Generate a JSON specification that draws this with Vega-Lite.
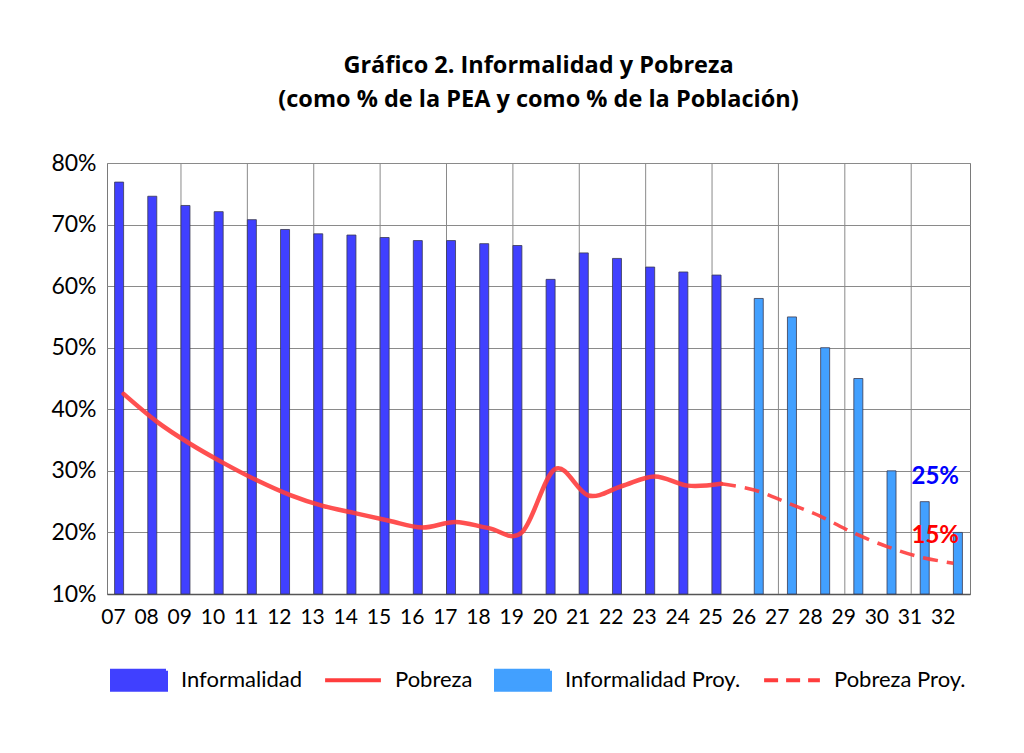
{
  "$schema": "https://vega.github.io/schema/vega-lite/v6.json",
  "width": 863,
  "height": 431,
  "autosize": {"type": "none"},
  "padding": {"left": 107, "top": 163, "right": 54, "bottom": 159},
  "background": "white",
  "title": {
    "text": ["Gráfico 2. Informalidad y Pobreza", "(como % de la PEA y como % de la Población)"],
    "font": "Open Sans",
    "fontSize": 23.5,
    "fontWeight": "bold",
    "color": "black",
    "anchor": "middle",
    "frame": "group",
    "lineHeight": 34,
    "offset": 41
  },
  "config": {
    "font": "Lato",
    "view": {"stroke": "#7a7a7a", "strokeWidth": 1},
    "axisX": {"labelPadding": 12, "labelBaseline": "top"},
    "legend": {
      "orient": "bottom",
      "direction": "horizontal",
      "offset": 21,
      "labelLimit": 400,
      "symbolSize": 3600,
      "symbolStrokeWidth": 4,
      "symbolOpacity": 1,
      "labelOffset": 10,
      "columnPadding": 15,
      "labelFont": "Lato",
      "labelFontSize": 22,
      "labelColor": "black"
    }
  },
  "datasets": {
    "serie": [
      {"year": "07", "serie": "Informalidad", "value": 76.9},
      {"year": "08", "serie": "Informalidad", "value": 74.6},
      {"year": "09", "serie": "Informalidad", "value": 73.1},
      {"year": "10", "serie": "Informalidad", "value": 72.1},
      {"year": "11", "serie": "Informalidad", "value": 70.8},
      {"year": "12", "serie": "Informalidad", "value": 69.2},
      {"year": "13", "serie": "Informalidad", "value": 68.5},
      {"year": "14", "serie": "Informalidad", "value": 68.3},
      {"year": "15", "serie": "Informalidad", "value": 67.9},
      {"year": "16", "serie": "Informalidad", "value": 67.4},
      {"year": "17", "serie": "Informalidad", "value": 67.4},
      {"year": "18", "serie": "Informalidad", "value": 66.9},
      {"year": "19", "serie": "Informalidad", "value": 66.6},
      {"year": "20", "serie": "Informalidad", "value": 61.1},
      {"year": "21", "serie": "Informalidad", "value": 65.4},
      {"year": "22", "serie": "Informalidad", "value": 64.5},
      {"year": "23", "serie": "Informalidad", "value": 63.1},
      {"year": "24", "serie": "Informalidad", "value": 62.3},
      {"year": "25", "serie": "Informalidad", "value": 61.8},
      {"year": "26", "serie": "Informalidad Proy.", "value": 58},
      {"year": "27", "serie": "Informalidad Proy.", "value": 55},
      {"year": "28", "serie": "Informalidad Proy.", "value": 50},
      {"year": "29", "serie": "Informalidad Proy.", "value": 45},
      {"year": "30", "serie": "Informalidad Proy.", "value": 30},
      {"year": "31", "serie": "Informalidad Proy.", "value": 25},
      {"year": "32", "serie": "Informalidad Proy.", "value": 20},
      {"year": "07", "serie": "Pobreza", "value": 42.5},
      {"year": "08", "serie": "Pobreza", "value": 38.0},
      {"year": "09", "serie": "Pobreza", "value": 34.4},
      {"year": "10", "serie": "Pobreza", "value": 31.3},
      {"year": "11", "serie": "Pobreza", "value": 28.5},
      {"year": "12", "serie": "Pobreza", "value": 26.1},
      {"year": "13", "serie": "Pobreza", "value": 24.3},
      {"year": "14", "serie": "Pobreza", "value": 23.1},
      {"year": "15", "serie": "Pobreza", "value": 21.9},
      {"year": "16", "serie": "Pobreza", "value": 20.8},
      {"year": "17", "serie": "Pobreza", "value": 21.7},
      {"year": "18", "serie": "Pobreza", "value": 20.7},
      {"year": "19", "serie": "Pobreza", "value": 20.0},
      {"year": "20", "serie": "Pobreza", "value": 30.3},
      {"year": "21", "serie": "Pobreza", "value": 26.0},
      {"year": "22", "serie": "Pobreza", "value": 27.5},
      {"year": "23", "serie": "Pobreza", "value": 29.1},
      {"year": "24", "serie": "Pobreza", "value": 27.6},
      {"year": "25", "serie": "Pobreza", "value": 27.9},
      {"year": "25", "serie": "Pobreza Proy.", "value": 27.9},
      {"year": "26", "serie": "Pobreza Proy.", "value": 26.9},
      {"year": "27", "serie": "Pobreza Proy.", "value": 24.8},
      {"year": "28", "serie": "Pobreza Proy.", "value": 22.6},
      {"year": "29", "serie": "Pobreza Proy.", "value": 19.9},
      {"year": "30", "serie": "Pobreza Proy.", "value": 17.7},
      {"year": "31", "serie": "Pobreza Proy.", "value": 16.0},
      {"year": "32", "serie": "Pobreza Proy.", "value": 15.0}
    ],
    "notas": [
      {"year": "31", "value": 29.0, "label": "25%"},
      {"year": "31", "value": 19.4, "label": "15%"}
    ]
  },
  "layer": [
    {
      "data": {"name": "serie"},
      "transform": [{"filter": {"field": "serie", "equal": "Informalidad"}}, {"filter": {"field": "year", "oneOf": ["09", "11", "13", "15", "17", "19", "21", "23", "25"]}}],
      "mark": {"type": "rule", "color": "#8a8a8a", "strokeWidth": 1},
      "encoding": {
        "x": {"field": "year", "type": "nominal", "bandPosition": 0}
      }
    },
    {
      "data": {"name": "serie"},
      "transform": [{"filter": {"field": "serie", "equal": "Informalidad Proy."}}, {"filter": {"field": "year", "oneOf": ["27", "29", "31"]}}],
      "mark": {"type": "rule", "color": "#8a8a8a", "strokeWidth": 1},
      "encoding": {
        "x": {"field": "year", "type": "nominal", "bandPosition": 0}
      }
    },
    {
      "data": {"name": "serie"},
      "transform": [{"filter": {"field": "serie", "oneOf": ["Informalidad", "Informalidad Proy."]}}],
      "mark": {"type": "bar", "stroke": "#3a3a50", "strokeWidth": 0.8},
      "encoding": {
        "x": {
          "field": "year", "type": "nominal",
          "scale": {"paddingInner": 0.457, "paddingOuter": 0.2285},
          "axis": {
            "title": null, "grid": false, "ticks": false, "domain": true,
            "domainColor": "#555555", "domainWidth": 1.5,
            "labelAngle": 0, "labelFont": "Lato", "labelFontSize": 21,
            "labelColor": "black", "labelPadding": 12, "labelBaseline": "top", "labelOffset": 2
          }
        },
        "xOffset": {"field": "serie", "type": "nominal", "scale": {"domain": ["Informalidad", "Informalidad Proy."], "paddingInner": 0, "paddingOuter": 0}},
        "y": {
          "field": "value", "type": "quantitative",
          "scale": {"domain": [10, 80], "nice": false, "zero": false},
          "axis": {
            "title": null, "values": [10, 20, 30, 40, 50, 60, 70, 80],
            "labelExpr": "datum.value + '%'",
            "grid": true, "gridColor": "#8a8a8a", "gridWidth": 1,
            "ticks": false, "domain": false,
            "labelFont": "Lato", "labelFontSize": 23, "labelColor": "black", "labelPadding": 11
          }
        },
        "y2": {"datum": 10},
        "color": {
          "field": "serie", "type": "nominal",
          "scale": {
            "domain": ["Informalidad", "Pobreza", "Informalidad Proy.", "Pobreza Proy."],
            "range": ["#4040FF", "#FF3D3D", "#42A0FF", "#FF3D3D"]
          },
          "legend": {"title": null}
        }
      }
    },
    {
      "data": {"name": "serie"},
      "transform": [{"filter": {"field": "serie", "equal": "Pobreza"}}],
      "mark": {"type": "line", "interpolate": "cardinal", "strokeWidth": 4.5, "opacity": 0.9, "strokeCap": "round"},
      "encoding": {
        "x": {"field": "year", "type": "nominal"},
        "y": {"field": "value", "type": "quantitative"},
        "color": {"field": "serie", "type": "nominal", "legend": {"title": null}}
      }
    },
    {
      "data": {"name": "serie"},
      "transform": [{"filter": {"field": "serie", "equal": "Pobreza Proy."}}],
      "mark": {"type": "line", "interpolate": "cardinal", "strokeWidth": 3.5, "opacity": 0.9, "strokeDash": [15, 9]},
      "encoding": {
        "x": {"field": "year", "type": "nominal"},
        "y": {"field": "value", "type": "quantitative"},
        "color": {"field": "serie", "type": "nominal", "legend": {"title": null}}
      }
    },
    {
      "data": {"name": "serie"},
      "transform": [{"filter": "datum.value < 0"}],
      "mark": {"type": "point", "filled": false},
      "encoding": {
        "x": {"field": "year", "type": "nominal"},
        "y": {"field": "value", "type": "quantitative"},
        "color": {"field": "serie", "type": "nominal", "legend": {"title": null}},
        "shape": {
          "field": "serie", "type": "nominal",
          "scale": {
            "domain": ["Informalidad", "Pobreza", "Informalidad Proy.", "Pobreza Proy."],
            "range": ["M-0.9,-0.317H0.9V0.317H-0.9Z", "M-0.9,-0.317M-0.9,0.317M-0.93,0H0.93", "M-0.9,-0.317H0.9V0.317H-0.9Z", "M-0.9,-0.317M-0.9,0.317M-0.93,0H0.93"]
          },
          "legend": {"title": null}
        },
        "strokeDash": {
          "field": "serie", "type": "nominal",
          "scale": {
            "domain": ["Informalidad", "Pobreza", "Informalidad Proy.", "Pobreza Proy."],
            "range": [[1, 0], [1, 0], [1, 0], [14, 8]]
          },
          "legend": {"title": null}
        }
      }
    },
    {
      "data": {"name": "notas"},
      "mark": {"type": "text", "font": "Lato", "fontSize": 24, "fontWeight": "bold", "dx": 15, "align": "center", "baseline": "middle"},
      "encoding": {
        "x": {"field": "year", "type": "nominal"},
        "y": {"field": "value", "type": "quantitative"},
        "text": {"field": "label"},
        "color": {"condition": {"test": "datum.label === '25%'", "value": "#0000FF"}, "value": "#FF0000"}
      }
    }
  ]
}
